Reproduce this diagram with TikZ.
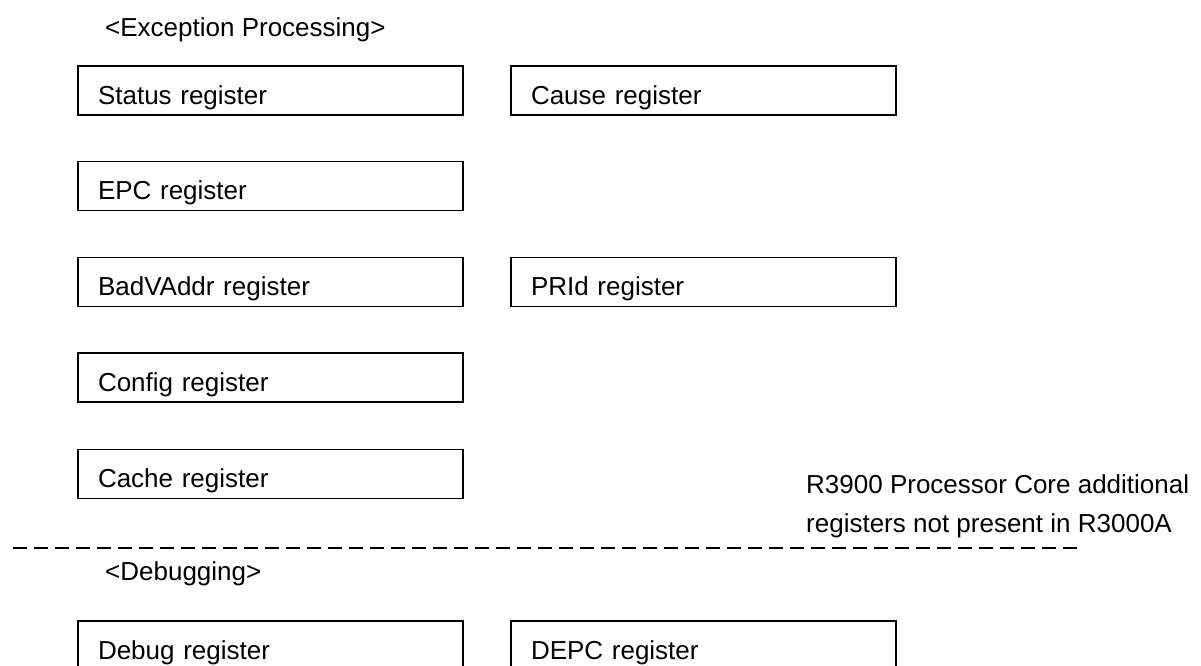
\documentclass[tikz,border=0pt]{standalone}
\usepackage{fontspec}
\setmainfont{Liberation Sans}
\usepackage{tikz}

\begin{document}
\begin{tikzpicture}[
        x=1pt, y=-1pt,
        every node/.style={font=\fontsize{26}{31}\selectfont},
        regbox/.style={draw=black, line width=1.8pt, minimum height=49pt, inner ysep=0pt, inner xsep=20pt, text width=345pt, align=left, text height=27pt, text depth=0pt},
        heading/.style={anchor=base west, inner sep=0pt},
        sepline/.style={line width=2.2pt, dash pattern=on 14pt off 7pt}
    ]
        \clip (0,0) rectangle (1201,665);

        % Exception processing
        \node[heading] (exchead) at (105,36) {<Exception Processing>};
        \node[regbox] (status) at (270.5,90.5) {Status register};
        \node[regbox] (cause) at (703.5,90.5) {Cause register};
        \node[regbox] (epc) at (270.5,186) {EPC register};
        \node[regbox] (badvaddr) at (270.5,282) {BadVAddr register};
        \node[regbox] (prid) at (703.5,282) {PRId register};
        \node[regbox] (config) at (270.5,377.5) {Config register};
        \node[regbox] (cache) at (270.5,474) {Cache register};

        % Note
        \node[heading] (note1) at (806,493) {R3900 Processor Core additional};
        \node[heading] (note2) at (806,532) {registers not present in R3000A};

        % Separator
        \coordinate (sepL) at (13,548);
        \coordinate (sepR) at (1077,548);
        \draw[sepline] (sepL) -- (sepR);

        % Debugging
        \node[heading] (dbghead) at (105,580) {<Debugging>};
        \node[regbox] (debug) at (270.5,645.5) {Debug register};
        \node[regbox] (depc) at (703.5,645.5) {DEPC register};
    \end{tikzpicture}
\end{document}
